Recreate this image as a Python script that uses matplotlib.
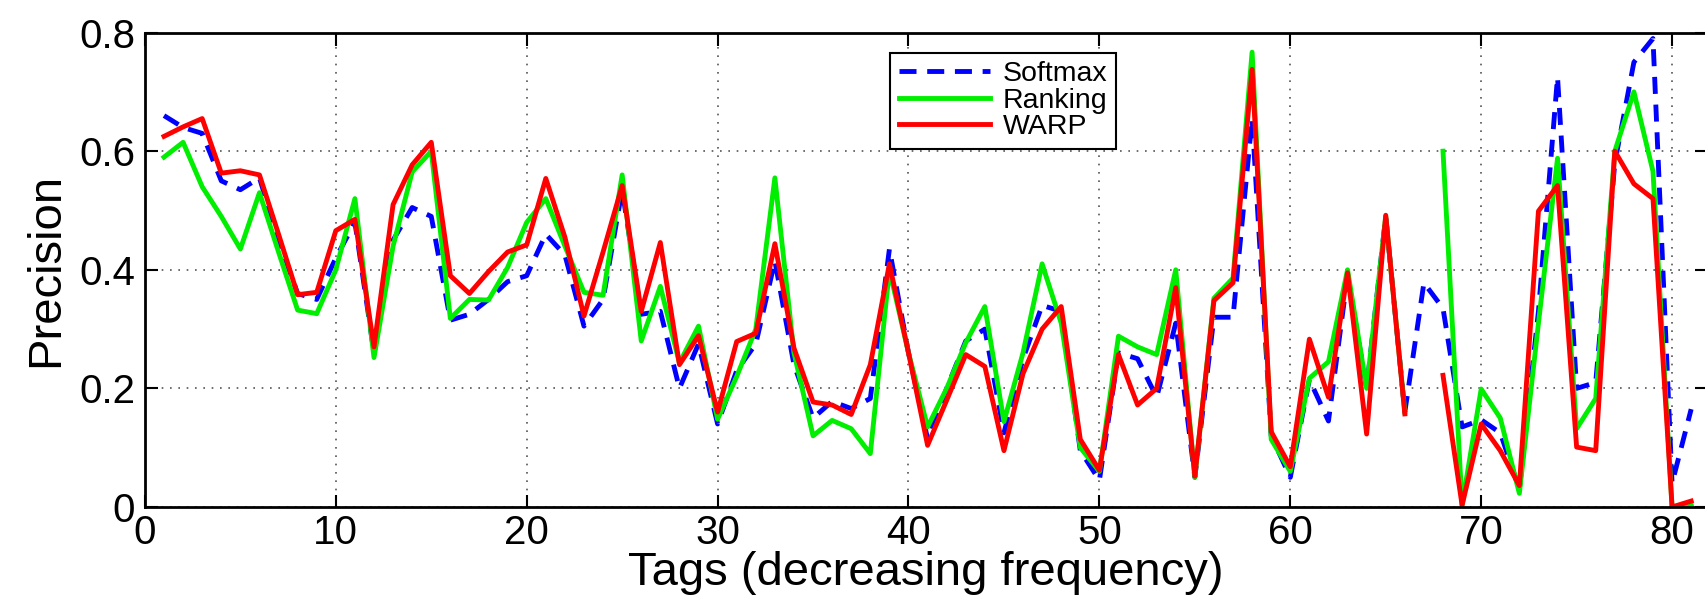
import matplotlib
matplotlib.use("Agg")
import matplotlib.pyplot as plt
import numpy as np

# tags 1..81 (decreasing frequency)
tags = np.arange(1, 82)

softmax = [0.66, 0.64, 0.63, 0.55, 0.535, 0.555, 0.45, 0.36, 0.35, 0.42,
           0.48, 0.26, 0.45, 0.505, 0.49, 0.315, 0.325, 0.35, 0.38, 0.39,
           0.46, 0.425, 0.305, 0.35, 0.535, 0.325, 0.33, 0.20, 0.275, 0.14,
           0.23, 0.275, 0.415, 0.24, 0.15, 0.178, 0.166, 0.183, 0.435, 0.26,
           0.115, 0.20, 0.28, 0.30, 0.125, 0.25, 0.34, 0.33, 0.095, 0.045,
           0.26, 0.25, 0.185, 0.31, 0.05, 0.32, 0.32, 0.655, 0.12, 0.05,
           0.215, 0.145, 0.39, 0.20, 0.49, 0.16, 0.378, 0.335, 0.135, 0.147,
           0.125, 0.03, 0.33, 0.725, 0.20, 0.21, 0.58, 0.75, 0.79, 0.04,
           0.165]

ranking = [0.59, 0.615, 0.54, 0.49, 0.435, 0.53, 0.43, 0.332, 0.326, 0.40,
           0.52, 0.252, 0.44, 0.565, 0.60, 0.318, 0.35, 0.349, 0.404, 0.48,
           0.52, 0.44, 0.362, 0.357, 0.56, 0.28, 0.372, 0.243, 0.305, 0.148,
           0.22, 0.30, 0.555, 0.26, 0.12, 0.146, 0.132, 0.09, 0.40, 0.26,
           0.135, 0.20, 0.277, 0.338, 0.144, 0.26, 0.41, 0.31, 0.10, 0.06,
           0.288, 0.27, 0.257, 0.40, 0.05, 0.352, 0.386, 0.767, 0.114, 0.06,
           0.217, 0.245, 0.40, 0.20, 0.49, 0.16, np.nan, 0.60, 0.003, 0.199,
           0.15, 0.023, 0.31, 0.588, 0.132, 0.183, 0.60, 0.70, 0.566, 0.0,
           0.005]

warp = [0.625, 0.641, 0.655, 0.563, 0.567, 0.56, 0.46, 0.358, 0.362, 0.466,
        0.485, 0.27, 0.51, 0.577, 0.615, 0.39, 0.36, 0.397, 0.43, 0.442,
        0.554, 0.455, 0.322, 0.43, 0.542, 0.33, 0.446, 0.24, 0.289, 0.16,
        0.279, 0.293, 0.444, 0.268, 0.177, 0.172, 0.156, 0.24, 0.41, 0.26,
        0.104, 0.18, 0.257, 0.237, 0.095, 0.225, 0.30, 0.338, 0.114, 0.062,
        0.257, 0.172, 0.20, 0.37, 0.052, 0.348, 0.378, 0.738, 0.127, 0.068,
        0.283, 0.185, 0.395, 0.123, 0.492, 0.157, np.nan, 0.222, 0.003, 0.14,
        0.095, 0.036, 0.499, 0.542, 0.101, 0.095, 0.60, 0.545, 0.52, 0.0,
        0.01]

yticks = [0, 0.2, 0.4, 0.6, 0.8]
ytick_labels = ['0', '0.2', '0.4', '0.6', '0.8']
xticks = [0, 10, 20, 30, 40, 50, 60, 70, 80]

plt.rcParams['font.family'] = ['Liberation Sans', 'DejaVu Sans']

fig = plt.figure(figsize=(17.05, 6.09), dpi=100)
ax = fig.add_axes([0.085, 0.1675, 0.9164, 0.779])

ax.plot(tags, softmax, color='#0000ff', lw=3.5, ls=(0, (3.5, 2.2)), label='Softmax')
ax.plot(tags, ranking, color='#00ee00', lw=3.5, label='Ranking')
ax.plot(tags, warp, color='#ff0000', lw=3.5, label='WARP')

ax.set_xlim(0, 81.85)
ax.set_ylim(0, 0.8)
ax.set_xticks(xticks)
ax.set_yticks(yticks)
ax.set_yticklabels(ytick_labels)
ax.tick_params(axis='both', which='major', labelsize=29, direction='in',
               length=9, width=1.5, top=True, right=True)
ax.tick_params(axis='x', pad=5)
ax.tick_params(axis='y', pad=7)
ax.grid(True, ls=(0, (1, 4)), color='#555555', lw=1.2)
for s in ax.spines.values():
    s.set_linewidth(2)

ax.set_ylabel('Precision', fontsize=34, labelpad=8)
ax.set_xlabel('Tags (decreasing frequency)', fontsize=34, labelpad=-1)

leg = ax.legend(loc='upper left', bbox_to_anchor=(0.477, 0.958), fontsize=20.5,
                handlelength=3.2, frameon=True, fancybox=False, framealpha=1,
                borderpad=0.3, labelspacing=0.02, handletextpad=0.45,
                borderaxespad=0)
leg.get_frame().set_edgecolor('black')
leg.get_frame().set_linewidth(1.5)

plt.savefig('out.png', dpi=100)
